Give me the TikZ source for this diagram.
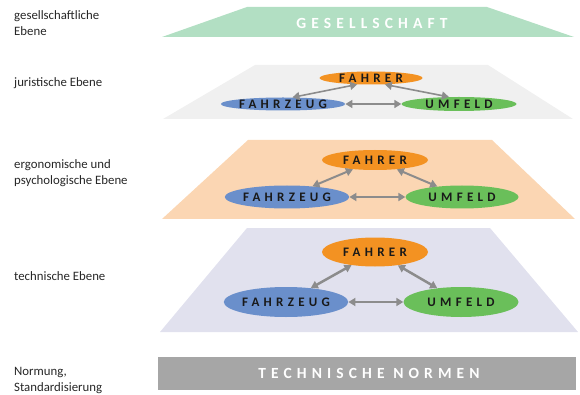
\documentclass[tikz,border=0pt]{standalone}
\usepackage{fontspec}
\setmainfont{Carlito}
\newfontfamily\spacedbig[LetterSpace=33]{Carlito}
\newfontfamily\spacedsmall[LetterSpace=33]{Carlito}
\usetikzlibrary{arrows.meta,shapes.geometric}
\definecolor{gsgreen}{HTML}{B2DFC3}
\definecolor{jurgray}{HTML}{F0F0F0}
\definecolor{ergpeach}{HTML}{FBD6B3}
\definecolor{techlav}{HTML}{E1E1EE}
\definecolor{normgray}{HTML}{A6A6A6}
\definecolor{faorange}{HTML}{F39222}
\definecolor{fzblue}{HTML}{6A8FCB}
\definecolor{umgreen}{HTML}{6ABF5A}
\definecolor{arrgray}{HTML}{8C8C8C}
\begin{document}
\begin{tikzpicture}[x=1pt,y=-1pt,
  lbl/.style={anchor=west,align=left,font=\fontsize{12.8}{16}\selectfont,text=black!85,inner sep=0pt},
  ell/.style={ellipse,inner sep=0pt,font=\spacedsmall\bfseries\fontsize{13}{13}\selectfont,text=black!90},
  rel/.style={draw=arrgray,{Triangle[length=7pt,width=8pt]}-{Triangle[length=7pt,width=8pt]}},
  bigtxt/.style={font=\spacedbig\bfseries\fontsize{15.5}{16}\selectfont,text=white}]
\useasboundingbox (0,0) rectangle (580,395);
% layers
\fill[gsgreen] (247,7) -- (487,7) -- (574,37) -- (162,37) -- cycle;
\node[bigtxt] (gs) at (372,23) {GESELLSCHAFT};
\fill[jurgray] (255,65) -- (488,65) -- (573,119) -- (163,119) -- cycle;
\fill[ergpeach] (248,140) -- (492,140) -- (575,219) -- (162,219) -- cycle;
\fill[techlav] (247,228) -- (490,228) -- (578,332) -- (160,332) -- cycle;
\fill[normgray] (158,357) rectangle (576,390);
\node[bigtxt] (tn) at (369,373.5) {TECHNISCHE NORMEN};
% labels
\node[lbl] (l1) at (14,23) {gesellschaftliche\\Ebene};
\node[lbl] (l2) at (14,83) {juristische Ebene};
\node[lbl] (l3) at (14,173) {ergonomische und\\psychologische Ebene};
\node[lbl] (l4) at (14,276) {technische Ebene};
\node[lbl] (l5) at (14,380) {Normung,\\Standardisierung};
% juristic
\node[ell,fill=faorange,minimum width=103pt,minimum height=13pt] (fa1) at (371,78) {FAHRER};
\node[ell,fill=fzblue,minimum width=110pt,minimum height=13pt] (fz1) at (283,104) {FAHRZEUG};
\node[ell,fill=umgreen,minimum width=115pt,minimum height=14pt] (um1) at (459,104) {UMFELD};
\draw[rel,line width=1.6pt] (fz1.35) -- (fa1.205);
\draw[rel,line width=1.6pt] (fa1.335) -- (um1.145);
\draw[rel,line width=1.6pt] (fz1) -- (um1);
% ergonomic
\node[ell,fill=faorange,minimum width=106pt,minimum height=20pt] (fa2) at (375,160) {FAHRER};
\node[ell,fill=fzblue,minimum width=115pt,minimum height=23pt] (fz2) at (287,197) {FAHRZEUG};
\node[ell,fill=umgreen,minimum width=113pt,minimum height=23pt] (um2) at (462,197) {UMFELD};
\draw[rel,line width=2pt] (fz2) -- (fa2);
\draw[rel,line width=2pt] (fa2) -- (um2);
\draw[rel,line width=2pt] (fz2) -- (um2);
% technical
\node[ell,fill=faorange,minimum width=106pt,minimum height=29pt] (fa3) at (375,252) {FAHRER};
\node[ell,fill=fzblue,minimum width=115pt,minimum height=30pt] (fz3) at (286,302) {FAHRZEUG};
\node[ell,fill=umgreen,minimum width=115pt,minimum height=30pt] (um3) at (461,302) {UMFELD};
\draw[rel,line width=2.5pt] (fz3) -- (fa3);
\draw[rel,line width=2.5pt] (fa3) -- (um3);
\draw[rel,line width=2.5pt] (fz3) -- (um3);
\end{tikzpicture}
\end{document}
